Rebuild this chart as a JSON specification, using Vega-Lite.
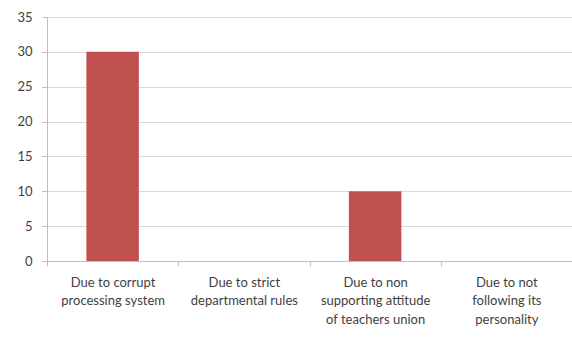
{
  "$schema": "https://vega.github.io/schema/vega-lite/v6.json",
  "autosize": "none",
  "width": 525,
  "height": 244,
  "padding": {"left": 47, "top": 17, "right": 0, "bottom": 77},
  "background": "white",
  "config": {"view": {"stroke": null}, "font": "Lato"},
  "data": {"values": [
    {"reason": "Due to corrupt|processing system", "count": 30},
    {"reason": "Due to strict|departmental rules", "count": 0},
    {"reason": "Due to non|supporting attitude|of teachers union", "count": 10},
    {"reason": "Due to not|following its|personality", "count": 0}
  ]},
  "mark": {"type": "bar", "color": "#C0504D", "width": {"band": 0.4}},
  "encoding": {
    "x": {
      "field": "reason", "type": "nominal", "sort": null,
      "scale": {"paddingInner": 0, "paddingOuter": 0},
      "axis": {
        "title": null, "labelAngle": 0, "labelExpr": "split(datum.label, '|')",
        "tickBand": "extent", "tickSize": 5, "tickColor": "#BFBFBF",
        "domainColor": "#BFBFBF", "labelFontSize": 13, "labelColor": "#3F3F3F",
        "labelPadding": 10, "labelLineHeight": 18.5, "labelLimit": 200, "grid": false
      }
    },
    "y": {
      "field": "count", "type": "quantitative",
      "scale": {"domain": [0, 35], "nice": false},
      "axis": {
        "title": null, "values": [0, 5, 10, 15, 20, 25, 30, 35],
        "tickSize": 5, "tickColor": "#BFBFBF", "domainColor": "#BFBFBF",
        "gridColor": "#D9D9D9", "labelFontSize": 13, "labelColor": "#3F3F3F",
        "labelPadding": 10
      }
    }
  }
}
